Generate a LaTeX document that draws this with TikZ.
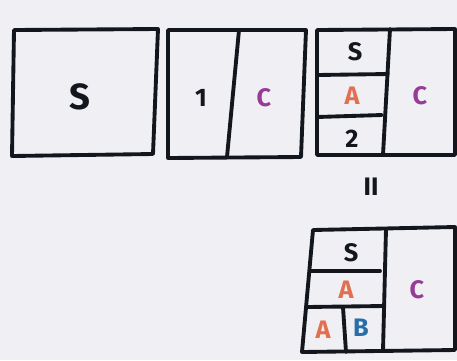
\documentclass[tikz,border=0pt]{standalone}
\usepackage{fontspec}
\setmainfont{Fira Sans}
\definecolor{paper}{RGB}{240,240,244}
\definecolor{ink}{RGB}{20,22,30}
\definecolor{cpurple}{RGB}{150,60,150}
\definecolor{aorange}{RGB}{226,112,80}
\definecolor{bblue}{RGB}{40,110,170}
\begin{document}
\begin{tikzpicture}[x=0.02cm,y=-0.02cm,line join=round,line cap=round,
	frame/.style={draw=ink,line width=2.2pt},
	lbl/.style={font=\bfseries\Large,text=ink,inner sep=0pt},
	big/.style={font=\bfseries\huge,text=ink,inner sep=0pt}]
	\fill[paper] (0,0) rectangle (457,360);
	\useasboundingbox (0,0) rectangle (457,360);
	% first split: one block
	\draw[frame] (14,30)--(158,29)--(153,154)--(12,156)--cycle;
	\node[big] (s1) at (80,97) {S};
	% second split: 1 | C
	\draw[frame] (168,30)--(306,30)--(301,157)--(168,158)--cycle;
	\draw[frame] (239,30)--(227,157);
	\node[lbl] (one) at (201,98) {1};
	\node[lbl,text=cpurple] (c2) at (264,98) {C};
	% third split: S / A / 2 | C
	\draw[frame] (317,30)--(455,29)--(455,155)--(317,155)--cycle;
	\draw[frame] (390,29)--(383,155);
	\draw[frame] (317,75)--(388,74);
	\draw[frame] (317,117)--(382,115);
	\node[lbl] (s3) at (355,52) {S};
	\node[lbl,text=aorange] (a3) at (352,96) {A};
	\node[lbl] (two) at (352,139) {2};
	\node[lbl,text=cpurple] (c3) at (420,96) {C};
	\node[lbl] (eq) at (371,187) {II};
	% fourth split: S / A / A B | C
	\draw[frame] (313,230)--(455,227)--(455,350)--(302,352)--cycle;
	\draw[frame] (386,229)--(383,351);
	\draw[frame] (311,271)--(380,271);
	\draw[frame] (307,307)--(384,306);
	\draw[frame] (343,307)--(346,352);
	\node[lbl] (s4) at (351,253) {S};
	\node[lbl,text=aorange] (a4) at (346,290) {A};
	\node[lbl,text=aorange] (aa4) at (323,330) {A};
	\node[lbl,text=bblue] (b4) at (361,328) {B};
	\node[lbl,text=cpurple] (c4) at (417,290) {C};
\end{tikzpicture}
\end{document}
